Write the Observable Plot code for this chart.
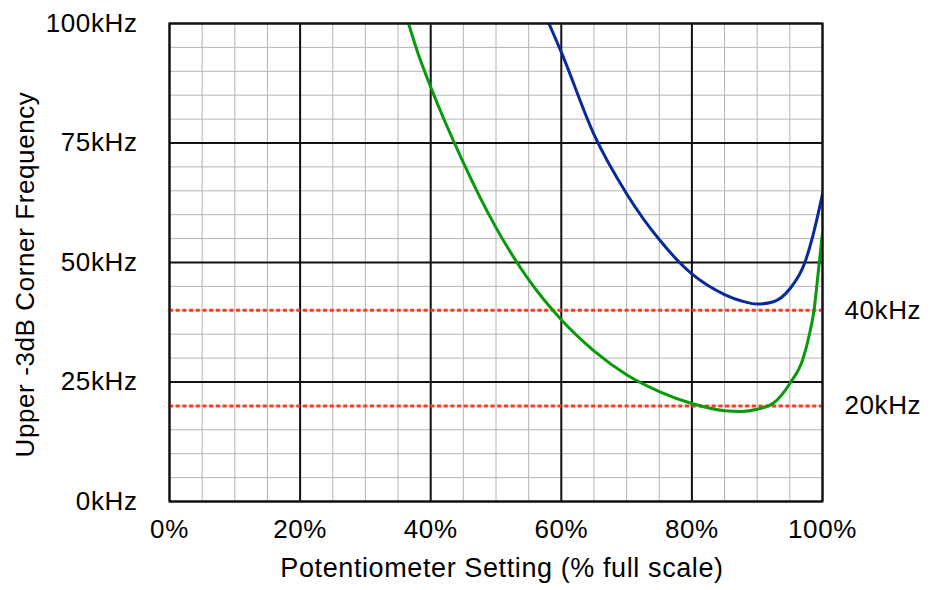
<!DOCTYPE html>
<html>
<head>
<meta charset="utf-8">
<script src="https://cdn.jsdelivr.net/npm/d3@7"></script>
<script src="https://cdn.jsdelivr.net/npm/@observablehq/plot@0.6"></script>
<style>
  body { margin: 0; background: #fff; }
</style>
</head>
<body>
<div id="chart"></div>
<script>
// valores (% de la escala, kHz)
const greenPct = [36.6, 38, 40, 45, 50, 55, 60, 65, 70, 75, 80, 85, 87.5, 90, 92.5, 95, 97, 98, 98.7, 99.35, 100]
const greenKHz = [100, 94, 86.7, 70.9, 57.3, 46.4, 38.0, 31.5, 26.5, 23.0, 20.5, 19.0, 18.85, 19.3, 20.6, 24.7, 29.8, 35, 40, 48, 56.3]

const bluePct = [58.1, 60, 65, 70, 75, 80, 85, 87.5, 90, 92.5, 95, 97.3, 98.6, 100]
const blueKHz = [100, 94, 76.8, 64.4, 54.8, 47.6, 43.3, 42.0, 41.3, 41.8, 44.5, 50, 56, 64.3]

const limits = [40, 20]

const xMajor = [0, 20, 40, 60, 80, 100]
const yMajor = [0, 25, 50, 75, 100]
const xMinor = d3.range(0, 101, 5)
const yMinor = d3.range(0, 101, 5)

const green = greenPct.map((x, i) => ({x, y: greenKHz[i]}))
const blue = bluePct.map((x, i) => ({x, y: blueKHz[i]}))

const chart = Plot.plot({
  width: 940,
  height: 590,
  marginLeft: 169,
  marginRight: 118,
  marginTop: 23,
  marginBottom: 89,
  style: {
    fontFamily: "Helvetica, 'Liberation Sans', Arial, sans-serif",
    fontSize: "26px",
    letterSpacing: "0.6px",
    color: "#000",
    background: "#fff"
  },
  x: {domain: [0, 100]},
  y: {domain: [0, 100]},
  marks: [
    Plot.ruleX(xMinor, {stroke: "#b4b4b4", strokeWidth: 1}),
    Plot.ruleY(yMinor, {stroke: "#b4b4b4", strokeWidth: 1}),
    Plot.ruleX(xMajor, {stroke: "#111", strokeWidth: 2}),
    Plot.ruleY(yMajor, {stroke: "#111", strokeWidth: 2}),
    Plot.ruleY(limits, {stroke: "#ff3c1e", strokeWidth: 3, strokeDasharray: "4,2.7"}),
    Plot.line(green, {x: "x", y: "y", stroke: "#0a990a", strokeWidth: 3, curve: "monotone-x", clip: true}),
    Plot.line(blue, {x: "x", y: "y", stroke: "#082a9a", strokeWidth: 3, curve: "monotone-x", clip: true}),
    Plot.frame({stroke: "#111", strokeWidth: 2}),
    Plot.axisX(xMajor, {tickSize: 0, tickPadding: 18, tickFormat: d => d + "%", label: null, fontSize: 26}),
    Plot.axisY(yMajor, {tickSize: 0, tickPadding: 32, tickFormat: d => d + "kHz", label: null, fontSize: 26}),
    Plot.text(limits, {y: d => d, frameAnchor: "right", dx: 22, textAnchor: "start", text: d => d + "kHz", fontSize: 26}),
    Plot.text(["Potentiometer Setting (% full scale)"], {frameAnchor: "bottom", dx: 6, dy: 67, lineAnchor: "middle", fontSize: 27}),
    Plot.text(["Upper -3dB Corner Frequency"], {frameAnchor: "left", textAnchor: "middle", rotate: -90, dx: -144, dy: 12, lineAnchor: "middle", fontSize: 26})
  ]
})

d3.select('#chart').append(() => chart)
</script>
</body>
</html>
